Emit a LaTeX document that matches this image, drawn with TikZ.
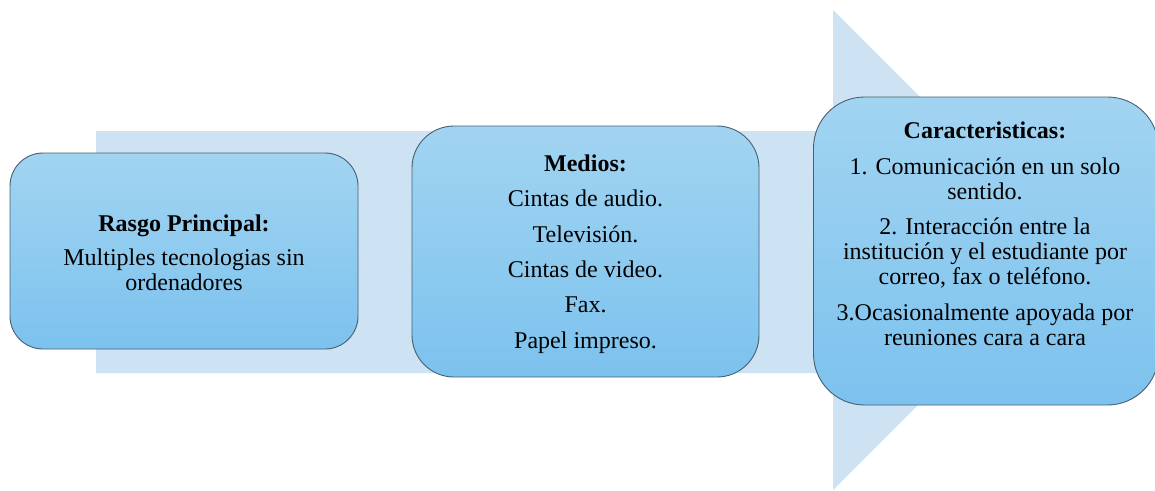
\documentclass[tikz,border=0pt]{standalone}
\usepackage{fontspec}
\setmainfont{Liberation Serif}
\definecolor{arrowbg}{RGB}{205,226,243}
\definecolor{boxtop}{RGB}{162,212,241}
\definecolor{boxbot}{RGB}{124,194,238}
\definecolor{boxline}{RGB}{70,96,115}
\begin{document}
\begin{tikzpicture}[x=1pt,y=-1pt,
  panel/.style={draw=boxline, line width=0.9pt, top color=boxtop, bottom color=boxbot,
    rounded corners=#1, inner sep=0pt},
  label/.style={align=center, font=\fontsize{24}{25}\selectfont, inner sep=0pt, text=black}]
\useasboundingbox (0,0) rectangle (1155,490);

% big background arrow
\fill[arrowbg] (96,131) -- (833,131) -- (833,10) -- (1073,250) -- (833,490)
  -- (833,373) -- (96,373) -- cycle;

% the three rounded panels
\node[panel=33pt, minimum width=348pt, minimum height=196pt] (rasgo) at (184,251) {};
\node[panel=42pt, minimum width=347pt, minimum height=251pt] (medios) at (585.5,251.5) {};
\node[panel=51pt, minimum width=345pt, minimum height=308pt] (carac) at (986,251) {};

% texts
\node[label] (rasgoText) at (rasgo.center) [yshift=-2pt]
  {\textbf{Rasgo Principal:}\\[9pt]
   Multiples tecnologias sin\\ ordenadores};
\node[label] (mediosText) at (medios.center) [yshift=-2.5pt]
  {\textbf{Medios:}\\[10.4pt]
   Cintas de audio.\\[10.4pt]
   Televisión.\\[10.4pt]
   Cintas de video.\\[10.4pt]
   Fax.\\[10.4pt]
   Papel impreso.};
\node[label] (caracText) at (985,234)
  {\textbf{Caracteristicas:}\\[10.5pt]
   1. Comunicación en un solo\\ sentido.\\[10.5pt]
   2. Interacción entre la\\ institución y el estudiante por\\ correo, fax o teléfono.\\[10.5pt]
   3.Ocasionalmente apoyada por\\ reuniones cara a cara};
\end{tikzpicture}
\end{document}
